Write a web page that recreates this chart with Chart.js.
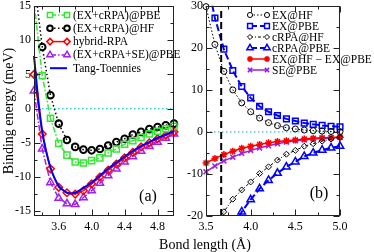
<!DOCTYPE html>
<html><head><meta charset="utf-8">
<script src="https://cdn.jsdelivr.net/npm/chart.js@4.4.0/dist/chart.umd.min.js"></script>
<style>
html,body{margin:0;padding:0;background:#fff;}
#wrap{position:relative;width:374px;height:252px;overflow:hidden;background:#fff;}
#ca{position:absolute;left:0;top:0;}
#cb{position:absolute;left:176px;top:0;}
#xt{position:absolute;left:150px;width:110px;top:237px;text-align:center;font-family:"Liberation Serif",serif;font-size:14px;line-height:16px;color:#000;white-space:nowrap;}
</style></head><body>
<div id="wrap">
<canvas id="ca" width="190" height="252" style="width:190px;height:252px"></canvas>
<canvas id="cb" width="198" height="252" style="width:198px;height:252px"></canvas>
<div id="xt">Bond length (Å)</div>
</div>
<script>
// ---------- Panel (a) data ----------
const bondA = [3.3,3.4,3.5,3.6,3.7,3.8,3.9,4.0,4.1,4.2,4.3,4.4,4.5,4.6,4.7,4.8,4.9,5.0];
const exCrpaPBE = [15.6,4.8,-1.4,-5.1,-6.8,-7.8,-7.95,-7.6,-7.2,-6.5,-5.9,-5.2,-4.7,-4.2,-3.7,-3.3,-2.95,-2.6];
const exCrpaHF  = [19.0,9.0,1.95,-2.2,-4.6,-5.6,-6.0,-6.1,-5.9,-5.4,-4.9,-4.4,-3.8,-3.4,-3.0,-2.7,-2.45,-2.2];
const hybridRPA = [5.0,-3.7,-8.8,-11.5,-12.3,-12.5,-12.0,-11.0,-10.0,-9.0,-8.1,-7.2,-6.4,-5.6,-5.0,-4.4,-3.9,-3.4];
const exCrpaSePBE = [2.6,-5.9,-10.8,-13.1,-13.9,-14.0,-13.0,-12.0,-10.9,-9.8,-8.8,-7.8,-7.0,-6.2,-5.5,-4.9,-4.3,-3.7];
const ttBond = [3.3,3.35,3.4,3.45,3.5,3.55,3.6,3.65,3.7,3.75,3.8,3.85,3.9,3.95,4.0,4.1,4.2,4.3,4.4,4.5,4.6,4.7,4.8,4.9,5.0];
const tangToennies = [7.7,1.5,-3.3,-6.4,-8.6,-10.2,-11.3,-11.9,-12.3,-12.4,-12.3,-12.0,-11.6,-11.2,-10.8,-9.8,-8.8,-7.9,-7.0,-6.2,-5.5,-4.9,-4.3,-3.8,-3.3];
const xMajorA = [3.6,4.0,4.4,4.8], xMinorA = [3.4,3.8,4.2,4.6];
const yMajorA = [-15,-10,-5,0,5,10,15], yMinorA = [-12.5,-7.5,-2.5,2.5,7.5,12.5];

// ---------- Panel (b) data ----------
const bondB = [3.5,3.6,3.7,3.8,3.9,4.0,4.1,4.2,4.3,4.4,4.5,4.6,4.7,4.8,4.9,5.0];
const exHF   = [29.8,20.8,14.4,10.0,6.9,4.8,3.3,2.2,1.5,1.0,0.7,0.45,0.3,0.2,0.12,0.08];
const exPBE  = [37.2,27.1,19.7,14.6,10.8,8.1,6.1,4.8,3.9,3.1,2.6,2.1,1.8,1.55,1.35,1.2];
const crpaHF = [-35,-26,-19.0,-16.0,-13.8,-11.9,-9.9,-8.3,-6.7,-5.3,-4.4,-3.4,-2.8,-2.2,-1.7,-1.3];
const crpaPBE= [-45,-36,-29,-23,-19.0,-16.1,-13.5,-11.5,-9.8,-8.3,-7.1,-5.8,-5.0,-4.3,-3.8,-3.4];
const exDiff = [-7.4,-6.3,-5.4,-4.6,-3.9,-3.4,-3.0,-2.6,-2.3,-2.1,-1.9,-1.7,-1.5,-1.4,-1.3,-1.2];
const sePBE  = [-9.5,-8.1,-6.9,-6.0,-5.1,-4.4,-3.8,-3.3,-2.8,-2.4,-2.1,-1.9,-1.7,-1.55,-1.45,-1.35];
const eqBond = 3.67;
const xMajorB = [3.5,4.0,4.5,5.0], xMinorB = [3.75,4.25,4.75];
const yMajorB = [-20,-10,0,10,20,30], yMinorB = [-15,-5,5,15,25];

const serif = "'Liberation Serif','Times New Roman',serif";
const pts = (xs, ys) => xs.map((x,i)=>({x, y: ys[i]}));
const none = 'rgba(0,0,0,0)';

const framePlugin = {
  id: 'frame',
  afterDatasetsDraw(chart, args, o) {
    const {ctx, chartArea: a, scales: {x, y}} = chart;
    ctx.save();
    ctx.strokeStyle = '#222';
    ctx.lineWidth = 1;
    const L = Math.round(a.left)+0.5, R = Math.round(a.right)-0.5, T = Math.round(a.top)+0.5, B = Math.round(a.bottom)-0.5;
    ctx.beginPath();
    const tick = (vals, len, horiz) => {
      vals.forEach(v => {
        if (horiz) {
          const p = Math.round(x.getPixelForValue(v)) + 0.5;
          ctx.moveTo(p, B); ctx.lineTo(p, B - len);
          ctx.moveTo(p, T); ctx.lineTo(p, T + len);
        } else {
          const p = Math.round(y.getPixelForValue(v)) + 0.5;
          ctx.moveTo(L, p); ctx.lineTo(L + len, p);
          ctx.moveTo(R, p); ctx.lineTo(R - len, p);
        }
      });
    };
    tick(o.xMajor, 6, true); tick(o.xMinor, 3, true);
    tick(o.yMajor, 6, false); tick(o.yMinor, 3, false);
    ctx.stroke();
    ctx.strokeRect(L, T, R - L, B - T);
    // legend
    const lg = o.legend;
    ctx.font = lg.size + 'px ' + serif;
    ctx.textBaseline = 'middle';
    ctx.textAlign = 'left';
    let row = 0;
    chart.data.datasets.forEach(ds => {
      if (ds.noLegend) return;
      const yy = lg.y0 + row * lg.dy;
      row++;
      ctx.save();
      ctx.strokeStyle = ds.borderColor;
      ctx.lineWidth = ds.borderWidth;
      ctx.setLineDash(ds.borderDash || []);
      ctx.beginPath(); ctx.moveTo(lg.x1, yy); ctx.lineTo(lg.x2, yy); ctx.stroke();
      ctx.setLineDash([]);
      if (ds.pointRadius > 0) {
        ctx.strokeStyle = ds.pointBorderColor || ds.borderColor;
        ctx.fillStyle = '#fff';
        ctx.lineWidth = ds.pointBorderWidth || 1;
        const po = {pointStyle: ds.pointStyle, radius: ds.pointRadius * 0.85, borderWidth: ds.pointBorderWidth || 1, rotation: 0};
        Chart.helpers.drawPoint(ctx, po, lg.x1, yy);
        Chart.helpers.drawPoint(ctx, po, lg.x2, yy);
      }
      ctx.restore();
      ctx.fillStyle = '#000';
      ctx.fillText(ds.label, lg.tx, yy + 0.5);
    });
    // panel tag
    ctx.font = '16px ' + serif;
    ctx.textAlign = 'center';
    ctx.fillStyle = '#000';
    ctx.fillText(o.tag.text, a.right - o.tag.dx, a.bottom - o.tag.dy);
    ctx.restore();
  }
};

function line(label, xs, ys, color, opt) {
  return Object.assign({
    label, data: pts(xs, ys), borderColor: color, backgroundColor: none,
    pointBackgroundColor: none, pointBorderColor: color, borderWidth: 1.5,
    pointBorderWidth: 1.5, pointRadius: 3.5, pointStyle: 'circle', tension: 0,
    clip: {left: 6, top: 0, right: 6, bottom: 6}, order: 1
  }, opt);
}

function axes(xmin, xmax, ymin, ymax, xT, yT, yw, xh, ytitle) {
  const tf = {family: serif, size: 12};
  return {
    x: {type: 'linear', min: xmin, max: xmax,
      grid: {display: false, drawTicks: false}, border: {display: false},
      ticks: {padding: 4, font: tf, color: '#000', autoSkip: false, maxRotation: 0,
        callback: v => v.toFixed(1)},
      afterBuildTicks: s => { s.ticks = xT.map(v => ({value: v})); },
      afterFit: s => { s.height = xh; s.paddingLeft = 0; s.paddingRight = 0; }},
    y: {type: 'linear', min: ymin, max: ymax,
      grid: {display: false, drawTicks: false}, border: {display: false},
      ticks: {padding: 3, font: tf, color: '#000', autoSkip: false,
        callback: v => String(v)},
      title: ytitle ? {display: true, text: ytitle, color: '#000', font: {family: serif, size: 14}, padding: {top: 1, bottom: 0}} : {display: false},
      afterBuildTicks: s => { s.ticks = yT.map(v => ({value: v})); },
      afterFit: s => { s.width = yw; s.paddingTop = 0; s.paddingBottom = 0; }}
  };
}

const zeroA = [0, 0], zeroB = [0, 0];

new Chart(document.getElementById('ca'), {
  type: 'line',
  data: {datasets: [
    line('(EX+cRPA)@PBE', bondA, exCrpaPBE, '#33e633', {pointStyle: 'rect', pointRadius: 4.3, borderDash: [6, 2, 1.5, 2]}),
    line('(EX+cRPA)@HF', bondA, exCrpaHF, '#000000', {pointRadius: 3.3, pointBorderWidth: 2, borderDash: [1.5, 2.5]}),
    line('hybrid-RPA', bondA, hybridRPA, '#ff0000', {pointStyle: 'rectRot', pointRadius: 3.8}),
    line('(EX+cRPA+SE)@PBE', bondA, exCrpaSePBE, '#a020f0', {pointStyle: 'triangle', pointRadius: 4.3, borderDash: [6, 2, 1.5, 2]}),
    line('Tang-Toennies', ttBond, tangToennies, '#0000ff', {pointRadius: 0, borderWidth: 2, cubicInterpolationMode: 'monotone', order: 0}),
    line('', [bondA[0], bondA[bondA.length-1]], zeroA, '#22cccc', {pointRadius: 0, borderWidth: 1.2, borderDash: [1.5, 2.5], noLegend: true, order: 5})
  ]},
  options: {
    responsive: false, animation: false, devicePixelRatio: 1,
    layout: {padding: {left: 0, right: 16, top: 5, bottom: 0}},
    plugins: {legend: {display: false}, tooltip: {enabled: false},
      frame: {xMajor: xMajorA, xMinor: xMinorA, yMajor: yMajorA, yMinor: yMinorA,
        legend: {x1: 50, x2: 67, tx: 73, y0: 15, dy: 13.3, size: 11.5},
        tag: {text: '(a)', dx: 26, dy: 19}}},
    scales: axes(3.3, 5.0, -15.7, 15, xMajorA, yMajorA, 34, 36, 'Binding energy (meV)')
  },
  plugins: [framePlugin]
});

new Chart(document.getElementById('cb'), {
  type: 'line',
  data: {datasets: [
    line('EX@HF', bondB, exHF, '#000000', {pointRadius: 3, pointBorderWidth: 1, borderWidth: 1, borderDash: [1.5, 2], clip: 6}),
    line('EX@PBE', bondB, exPBE, '#0000ff', {pointStyle: 'rect', pointRadius: 4, borderWidth: 2, borderDash: [7, 3]}),
    line('cRPA@HF', bondB, crpaHF, '#000000', {pointStyle: 'rectRot', pointRadius: 3, pointBorderWidth: 1, borderWidth: 1, borderDash: [3, 2, 1, 2], clip: {left: 6, top: 6, right: 6, bottom: 0}}),
    line('cRPA@PBE', bondB, crpaPBE, '#0000ff', {pointStyle: 'triangle', pointRadius: 4.3, borderWidth: 2, borderDash: [7, 3], clip: {left: 6, top: 6, right: 6, bottom: 0}}),
    line('EX@HF \u2212 EX@PBE', bondB, exDiff, '#ff0000', {pointStyle: 'star', pointRadius: 3.5, clip: 6}),
    line('SE@PBE', bondB, sePBE, '#9a1fe0', {pointStyle: 'crossRot', pointRadius: 3.5, clip: 6}),
    line('', [eqBond, eqBond], [yMajorB[0], yMajorB[yMajorB.length-1]], '#000000', {pointRadius: 0, borderWidth: 2, borderDash: [7, 4], noLegend: true, order: 0}),
    line('', [bondB[0], bondB[bondB.length-1]], zeroB, '#22cccc', {pointRadius: 0, borderWidth: 1.2, borderDash: [1.5, 2.5], noLegend: true, order: 5})
  ]},
  options: {
    responsive: false, animation: false, devicePixelRatio: 1,
    layout: {padding: {left: 0, right: 34, top: 5, bottom: 0}},
    plugins: {legend: {display: false}, tooltip: {enabled: false},
      frame: {xMajor: xMajorB, xMinor: xMinorB, yMajor: yMajorB, yMinor: yMinorB,
        legend: {x1: 74, x2: 91, tx: 96, y0: 15, dy: 11, size: 11.5},
        tag: {text: '(b)', dx: 21, dy: 22}}},
    scales: axes(3.5, 5.0, -20, 30, xMajorB, yMajorB, 30, 36, null)
  },
  plugins: [framePlugin]
});
</script>
</body></html>
